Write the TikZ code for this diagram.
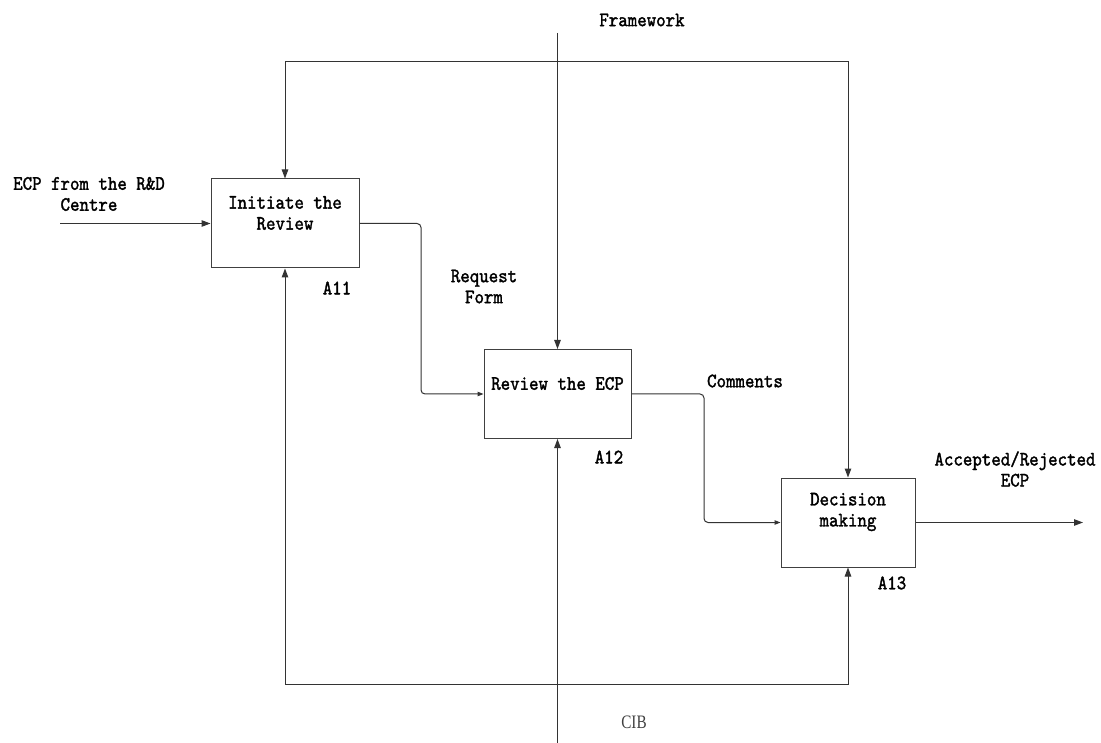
\documentclass[tikz,border=0pt]{standalone}
\usepackage{fontspec}
\newfontfamily\idefont[FakeStretch=0.88, FakeBold=1.6]{lmmono10-regular.otf}
\newfontfamily\cibfont[FakeStretch=0.8]{Liberation Serif}
\usepackage{tikz}
\usetikzlibrary{positioning,arrows.meta}

\begin{document}
\begin{tikzpicture}[x=1pt, y=-1pt,
every node/.style={font=\idefont\fontsize{20.5pt}{21pt}\selectfont, inner sep=0pt, align=center},
procbox/.style={draw=black!75, line width=1pt, minimum height=89pt},
flow/.style={draw=black!80, line width=1pt, -{Triangle[length=9pt, width=6.5pt]}},
bentflow/.style={flow, rounded corners=4pt, -{Triangle[length=6pt, width=4.5pt]}}]
\useasboundingbox (0,0) rectangle (1101,743);

% activity boxes
\node[procbox, minimum width=148pt] (a11) at (285,223.5) {};
\node[procbox, minimum width=147pt] (a12) at (557.5,394) {};
\node[procbox, minimum width=134pt] (a13) at (848,522.5) {};
\node (t11) at ([yshift=10.5pt]a11.center) {Initiate the\\Review};
\node (t12) at ([yshift=10.5pt]a12.center) {Review the ECP};
\node (t13) at ([yshift=10.5pt]a13.center) {Decision\\making};
\node (n11) at (337,288) {A11};
\node (n12) at (609,457) {A12};
\node (n13) at (892,583) {A13};

% arrow labels
\node (lecp) at (89,194) {ECP from the R\&D\\Centre};
\node (lreq) at (484,286.5) {Request\\Form};
\node (lcom) at (745,381) {Comments};
\node (lout) at (1015,469) {Accepted/Rejected\\ECP};
\node (lfw) at (642,20) {Framework};
\node[font=\cibfont\fontsize{19pt}{21pt}\selectfont, text=black!75] (lcib) at (634,722) {CIB};

% free ends
\coordinate (ecpin) at (60,223.5);
\coordinate (k1) at (421,0);
\coordinate (k2) at (704,0);
\coordinate (fw) at (557.5,33);
\coordinate (cib) at (557.5,743);
\coordinate (out) at (1083,522.5);
\coordinate (tl) at (285,62);
\coordinate (tr) at (848,62);
\coordinate (bl) at (285,684);
\coordinate (br) at (848,684);

% connectors
\draw[flow] (ecpin) -- (a11.west);
\draw[bentflow] (a11.east) -| (k1 |- a12.west) -- (a12.west);
\draw[bentflow] (a12.east) -| (k2 |- a13.west) -- (a13.west);
\draw[flow] (a13.east) -- (out);
\draw[flow] (fw) -- (a12.north);
\draw[flow] (cib) -- (a12.south);
\draw[flow] (tl) -- (a11.north);
\draw[flow] (tl) -- (tr) -- (a13.north);
\draw[flow] (bl) -- (a11.south);
\draw[flow] (bl) -- (br) -- (a13.south);
\end{tikzpicture}
\end{document}
